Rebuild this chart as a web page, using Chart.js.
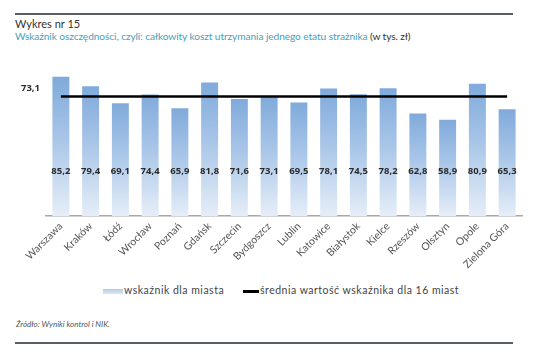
<!DOCTYPE html>
<html>
<head>
<meta charset="utf-8">
<script src="https://cdn.jsdelivr.net/npm/chart.js@4.4.1/dist/chart.umd.min.js"></script>
<style>
    body { margin: 0; background: #fff; width: 540px; height: 353px; position: relative; overflow: hidden; font-family: Lato, sans-serif; }
    .rule { position: absolute; left: 15px; width: 498px; height: 2px; background: #5a5f63; }
    #title { position: absolute; left: 15px; top: 17px; font-size: 11px; color: #333; }
    #subtitle { position: absolute; left: 15px; top: 30px; font-size: 10.2px; color: #4aa0bd; letter-spacing: -0.1px; white-space: nowrap; }
    #subtitle span { color: #333; }
    #chartBox { position: absolute; left: 0; top: 0; width: 540px; height: 280px; }
    .legend { position: absolute; top: 284px; font-size: 10.5px; color: #444; letter-spacing: 0.5px; white-space: nowrap; }
    .swatch { display: inline-block; vertical-align: middle; margin-right: 1px; }
    #source { position: absolute; left: 16px; top: 319px; font-size: 8px; font-style: italic; color: #555; }
</style>
</head>
<body>
<div class="rule" style="top:13px"></div>
<div id="title">Wykres nr 15</div>
<div id="subtitle">Wskaźnik oszczędności, czyli: całkowity koszt utrzymania jednego etatu strażnika <span>(w tys. zł)</span></div>
<div id="chartBox"><canvas id="chart" width="540" height="280"></canvas></div>
<div class="legend" style="left:103px"><span class="swatch" style="width:20px;height:5px;background:linear-gradient(#b3cce8,#dbe7f4)"></span>wskaźnik dla miasta</div>
<div class="legend" style="left:243px"><span class="swatch" style="width:16px;height:3px;background:#000"></span>średnia wartość wskaźnika dla 16 miast</div>
<div id="source">Źródło: Wyniki kontrol i NIK.</div>
<div class="rule" style="top:342px"></div>

<script>
// Dane z wykresu
const cities = ['Warszawa', 'Kraków', 'Łódź', 'Wrocław', 'Poznań', 'Gdańsk', 'Szczecin', 'Bydgoszcz',
    'Lublin', 'Katowice', 'Białystok', 'Kielce', 'Rzeszów', 'Olsztyn', 'Opole', 'Zielona Góra'];
const values = [85.2, 79.4, 69.1, 74.4, 65.9, 81.8, 71.6, 73.1, 69.5, 78.1, 74.5, 78.2, 62.8, 58.9, 80.9, 65.3];
const average = [73.1, 73.1, 73.1, 73.1, 73.1, 73.1, 73.1, 73.1, 73.1, 73.1, 73.1, 73.1, 73.1, 73.1, 73.1, 73.1];
const yMin = 0;
const yMax = 90;

const fmt = v => v.toFixed(1).replace('.', ',');

// gradient per slupek, od gory slupka do osi
function barColor(ctx) {
    const chart = ctx.chart;
    const y = chart.scales.y;
    if (!chart.chartArea || !y || ctx.raw === undefined) return '#a9c5e6';
    const top = y.getPixelForValue(ctx.raw);
    const bottom = y.getPixelForValue(0);
    const g = chart.ctx.createLinearGradient(0, top, 0, bottom);
    g.addColorStop(0, '#80aadb');
    g.addColorStop(0.45, '#a9c6e8');
    g.addColorStop(1, '#e6eef8');
    return g;
}

// etykiety wartosci i opis sredniej
const labelPlugin = {
    id: 'labels',
    afterDatasetsDraw(chart) {
        const c = chart.ctx;
        const meta = chart.getDatasetMeta(0);
        c.save();
        c.font = 'bold 9.5px "Open Sans", sans-serif';
        c.fillStyle = '#2b2b2b';
        c.textAlign = 'center';
        c.textBaseline = 'middle';
        meta.data.forEach((bar, i) => {
            c.fillText(fmt(values[i]), bar.x, chart.chartArea.bottom - 45);
        });
        c.textAlign = 'right';
        c.fillText(fmt(average[0]), 40, chart.scales.y.getPixelForValue(average[0]) - 8);
        c.restore();
    }
};

const ctx = document.getElementById('chart').getContext('2d');
new Chart(ctx, {
    data: {
        labels: cities,
        datasets: [
            {
                type: 'line',
                label: 'średnia wartość wskaźnika dla 16 miast',
                data: average,
                borderColor: '#000',
                borderWidth: 2.5,
                pointRadius: 0,
                order: 0
            },
            {
                type: 'bar',
                label: 'wskaźnik dla miasta',
                data: values,
                backgroundColor: barColor,
                barPercentage: 0.57,
                categoryPercentage: 1,
                order: 1
            }
        ]
    },
    options: {
        responsive: false,
        animation: false,
        layout: { padding: { top: 69, left: 46, right: 18, bottom: 0 } },
        plugins: {
            legend: { display: false },
            tooltip: { enabled: false }
        },
        scales: {
            x: {
                grid: { display: false, drawTicks: false },
                border: { display: true, color: '#a8a8a8', width: 1.5 },
                ticks: {
                    color: '#555',
                    font: { family: 'Lato', size: 10.5 },
                    maxRotation: 45,
                    minRotation: 45,
                    padding: 4,
                    autoSkip: false
                },
                afterFit(scale) { scale.height = 64; }
            },
            y: {
                display: false,
                min: yMin,
                max: yMax
            }
        }
    },
    plugins: [labelPlugin]
});
</script>
</body>
</html>
